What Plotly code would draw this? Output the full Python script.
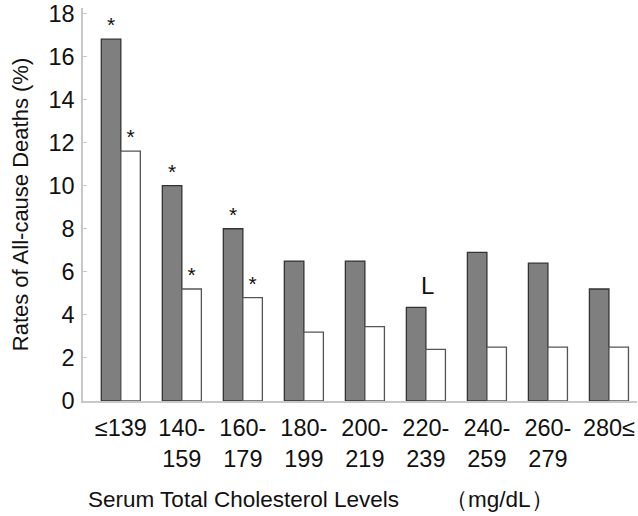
import plotly.graph_objects as go

# Serum total cholesterol groups (mg/dL)
categories = ["≤139", "140-<br>159", "160-<br>179", "180-<br>199", "200-<br>219",
              "220-<br>239", "240-<br>259", "260-<br>279", "280≤"]

# All-cause death rates (%) for the two groups of each cholesterol level
rates_dark = [16.8, 10.0, 8.0, 6.5, 6.5, 4.35, 6.9, 6.4, 5.2]
rates_white = [11.6, 5.2, 4.8, 3.2, 3.45, 2.4, 2.5, 2.5, 2.5]

# significance marks shown above bars
marks_dark = ["*", "*", "*", "", "", "", "", "", ""]
marks_white = ["*", "*", "*", "", "", "", "", "", ""]

y_ticks = [0, 2, 4, 6, 8, 10, 12, 14, 16, 18]

# reference category marker
ref_category = "220-<br>239"
ref_label = "L"
ref_label_y = 5.38

x_title = "Serum Total Cholesterol Levels\u3000\u3000（mg/dL）"
y_title = "Rates of All-cause Deaths (%)"

FONT = "Arial, 'Liberation Sans', sans-serif"

# margins / figure size (pixels)
W, H = 638, 516
ML, MR, MT, MB = 83, 1, 8, 115
plot_w = W - ML - MR
plot_h = H - MT - MB

fig = go.Figure()
fig.add_trace(go.Bar(
    x=categories, y=rates_dark,
    marker=dict(color="#7f7f7f", line=dict(color="#333333", width=1.3)),
    text=marks_dark, textposition="outside",
    textfont=dict(family=FONT, size=21, color="#111"),
    cliponaxis=False, showlegend=False,
))
fig.add_trace(go.Bar(
    x=categories, y=rates_white,
    marker=dict(color="#ffffff", line=dict(color="#555555", width=1.3)),
    text=marks_white, textposition="outside",
    textfont=dict(family=FONT, size=21, color="#111"),
    cliponaxis=False, showlegend=False,
))

fig.add_annotation(
    x=ref_category, y=ref_label_y, xref="x", yref="y",
    text=ref_label, showarrow=False,
    font=dict(family=FONT, size=24, color="#111"),
    xshift=2,
)

# x-axis title, centred below the tick labels
fig.add_annotation(
    x=(321 - ML) / plot_w, y=(H - MB - 500) / plot_h,
    xref="paper", yref="paper", xanchor="center", yanchor="middle",
    text=x_title, showarrow=False,
    font=dict(family=FONT, size=22.5, color="#111"),
)

fig.update_layout(
    width=W, height=H,
    margin=dict(l=ML, r=MR, t=MT, b=MB),
    paper_bgcolor="white", plot_bgcolor="white",
    barmode="group", bargap=0.36, bargroupgap=0,
    font=dict(family=FONT, size=23, color="#111"),
)

fig.update_xaxes(
    range=[-0.62, 8.46],
    showline=True, linecolor="#c8c8c8", linewidth=1.5,
    ticks="", showgrid=False, zeroline=False,
    tickfont=dict(family=FONT, size=23.5, color="#111"),
    ticklabelstandoff=5,
)
fig.update_yaxes(
    range=[0, 18.25], tickvals=y_ticks,
    showline=True, linecolor="#c8c8c8", linewidth=1.5,
    ticks="inside", ticklen=4, tickcolor="#c8c8c8",
    showgrid=False, zeroline=False,
    tickfont=dict(family=FONT, size=23.5, color="#111"),
    ticklabelstandoff=2,
    title=dict(text=y_title,
               font=dict(family=FONT, size=22, color="#111"), standoff=14),
)

fig.write_html("out.html")
